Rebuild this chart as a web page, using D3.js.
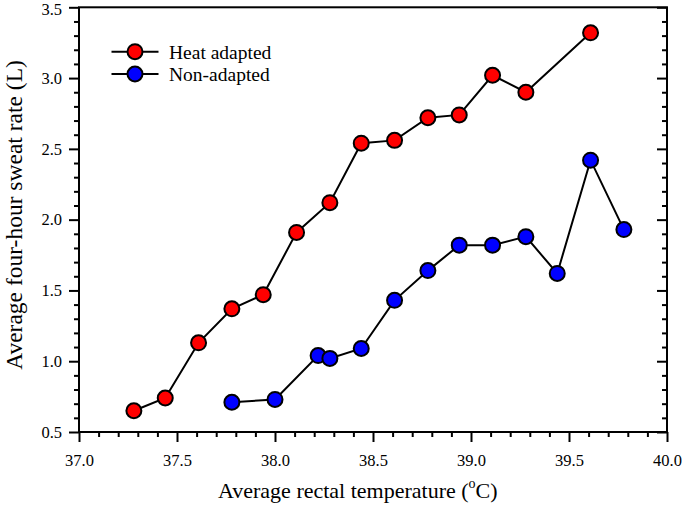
<!DOCTYPE html>
<html><head><meta charset="utf-8">
<script src="https://cdn.jsdelivr.net/npm/d3@7"></script>
<style>body{margin:0;background:#fff}svg{display:block}</style>
</head><body><svg id="c" width="685" height="506" font-family="Liberation Serif, Times New Roman, serif"></svg>
<script>
const heatX = [37.28,37.44,37.61,37.78,37.94,38.11,38.28,38.44,38.61,38.78,38.94,39.11,39.28,39.61];
const heatY = [0.65,0.74,1.13,1.37,1.47,1.91,2.12,2.54,2.56,2.72,2.74,3.02,2.90,3.32];
const nonX = [37.78,38.00,38.22,38.28,38.44,38.61,38.78,38.94,39.11,39.28,39.44,39.61,39.78];
const nonY = [0.71,0.73,1.04,1.02,1.09,1.43,1.64,1.82,1.82,1.88,1.62,2.42,1.93];
const xTicks = [37.0,37.5,38.0,38.5,39.0,39.5,40.0];
const yTicks = [0.5,1.0,1.5,2.0,2.5,3.0,3.5];
const seriesNames = ["Heat adapted","Non-adapted"];
const seriesColors = ["#ff0000","#0000ff"];

const FONT="Liberation Serif, Times New Roman, serif";
const L=79,R=667,T=7.3,B=432;
const svg=d3.select("#c");
const x=d3.scaleLinear().domain([37,40]).range([L,R]);
const y=d3.scaleLinear().domain([0.5,3.5]).range([B,T]);
const minorX=d3.range(370,401).map(d=>d/10).filter(d=>Math.round(d*10)%5!==0);
const minorY=d3.range(5,36).map(d=>d/10).filter(d=>Math.round(d*10)%5!==0);

svg.append("rect").attr("x",L).attr("y",T).attr("width",R-L).attr("height",B-T)
  .attr("fill","none").attr("stroke","#000").attr("stroke-width",2);

function styleAxis(g){g.attr("font-family",FONT);g.select(".domain").remove();g.selectAll("line").attr("stroke","#000").attr("stroke-width",2);
  g.selectAll("text").attr("font-family",FONT).attr("font-size",16.5).attr("fill","#000");}
svg.append("g").attr("transform",`translate(0,${B})`)
  .call(d3.axisBottom(x).tickValues(xTicks).tickFormat(d3.format(".1f")).tickSize(10).tickPadding(12)).call(styleAxis);
svg.append("g").attr("transform",`translate(0,${B})`)
  .call(d3.axisBottom(x).tickValues(minorX).tickFormat("").tickSize(5)).call(styleAxis);
svg.append("g").attr("transform",`translate(${L},0)`)
  .call(d3.axisLeft(y).tickValues(yTicks).tickFormat(d3.format(".1f")).tickSize(10).tickPadding(7)).call(styleAxis)
  .call(g=>g.selectAll("text").filter(d=>d===3.5).attr("dy","0.42em"));
svg.append("g").attr("transform",`translate(${L},0)`)
  .call(d3.axisLeft(y).tickValues(minorY).tickFormat("").tickSize(5)).call(styleAxis);
svg.append("g").attr("transform",`translate(${R},0)`)
  .call(d3.axisLeft(y).tickValues(yTicks).tickFormat("").tickSize(10)).call(styleAxis);
svg.append("g").attr("transform",`translate(${R},0)`)
  .call(d3.axisLeft(y).tickValues(minorY).tickFormat("").tickSize(5)).call(styleAxis);

const series=[d3.zip(heatX,heatY),d3.zip(nonX,nonY)];
const line=d3.line().x(d=>x(d[0])).y(d=>y(d[1]));
series.forEach((s,i)=>{
  svg.append("path").datum(s).attr("d",line).attr("fill","none").attr("stroke","#000").attr("stroke-width",2);
  svg.append("g").selectAll("circle").data(s).join("circle")
    .attr("cx",d=>x(d[0])).attr("cy",d=>y(d[1])).attr("r",7.5)
    .attr("fill",seriesColors[i]).attr("stroke","#000").attr("stroke-width",2);
});

seriesNames.forEach((n,i)=>{
  const yy=51.7+i*22.3;
  svg.append("line").attr("x1",111.5).attr("x2",158.5).attr("y1",yy).attr("y2",yy).attr("stroke","#000").attr("stroke-width",2);
  svg.append("circle").attr("cx",135).attr("cy",yy).attr("r",7.5).attr("fill",seriesColors[i]).attr("stroke","#000").attr("stroke-width",2);
  svg.append("text").attr("x",169).attr("y",yy).attr("dy","0.35em").attr("font-family",FONT).attr("font-size",19.5).text(n);
});

const xt=svg.append("text").attr("x",218).attr("y",498).attr("text-anchor","start").attr("font-family",FONT).attr("font-size",22);
xt.append("tspan").text("Average rectal temperature (");
xt.append("tspan").attr("font-size",14).attr("dy",-10).text("o");
xt.append("tspan").attr("dy",10).text("C)");
svg.append("text").attr("transform",`translate(22,215) rotate(-90)`).attr("text-anchor","middle")
  .attr("font-family",FONT).attr("font-size",23.5).text("Average four-hour sweat rate (L)");
</script></body></html>
